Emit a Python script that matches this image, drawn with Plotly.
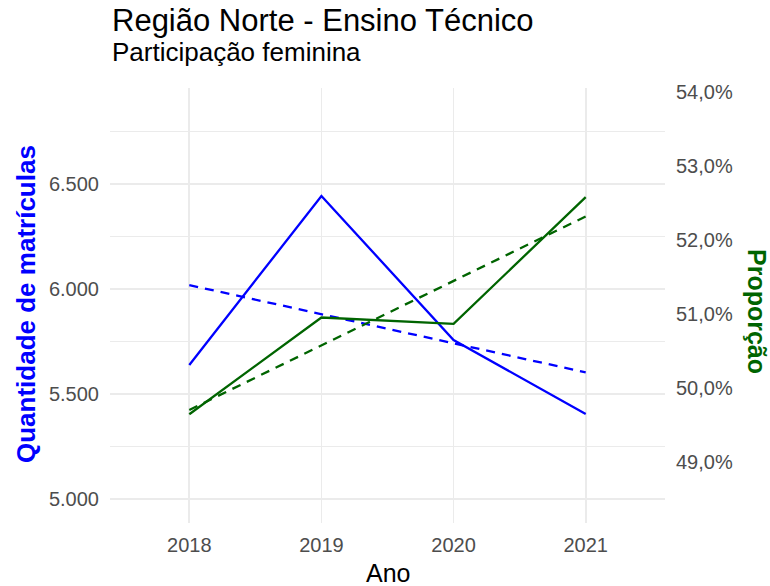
import numpy as np
import plotly.graph_objects as go

anos = [2018, 2019, 2020, 2021]
matriculas = [5638, 6443, 5757, 5405]
proporcao = [0.4965, 0.50955, 0.5087, 0.5258]

y_ticks = [5000, 5500, 6000, 6500]
y2_ticks = [0.49, 0.50, 0.51, 0.52, 0.53, 0.54]

# linear trends (as geom_smooth(method = "lm"))
x = np.array(anos, dtype=float)
tm = np.polyval(np.polyfit(x, matriculas, 1), x)
tp = np.polyval(np.polyfit(x, proporcao, 1), x)

BLUE = "#0000FF"
GREEN = "#006400"
GRID = "#EBEBEB"
TICK = "#4D4D4D"
FONT = "Liberation Sans, Arial, Helvetica, sans-serif"
LW = 2.3

fig = go.Figure()
fig.add_trace(go.Scatter(x=anos, y=matriculas, mode="lines", line=dict(color=BLUE, width=LW), yaxis="y"))
fig.add_trace(go.Scatter(x=anos, y=tm, mode="lines", line=dict(color=BLUE, width=LW, dash="9px,7px"), yaxis="y"))
fig.add_trace(go.Scatter(x=anos, y=proporcao, mode="lines", line=dict(color=GREEN, width=LW), yaxis="y2"))
fig.add_trace(go.Scatter(x=anos, y=tp, mode="lines", line=dict(color=GREEN, width=LW, dash="9px,7px"), yaxis="y2"))

W, H = 770, 586
L, R, T, B = 110, 105, 88, 63
pw, ph = W - L - R, H - T - B

def px_x(p):
    return (p - L) / pw

def px_y(p):
    return (H - B - p) / ph

fig.update_layout(
    width=W, height=H,
    margin=dict(l=L, r=R, t=T, b=B),
    paper_bgcolor="white", plot_bgcolor="white",
    showlegend=False,
    hovermode=False,
    separators=",.",
    font=dict(family=FONT, color=TICK, size=20),
    xaxis=dict(
        range=[2017.4, 2021.6], tickvals=anos, ticktext=[str(a) for a in anos],
        showgrid=True, gridcolor=GRID, gridwidth=1.8, zeroline=False,
        showline=False, ticks="", ticklabelstandoff=8,
        tickfont=dict(size=20, color=TICK, family=FONT),
    ),
    yaxis=dict(
        range=[4885.7, 6957.1], tickvals=y_ticks, tickformat=",d",
        showgrid=True, gridcolor=GRID, gridwidth=1.8, zeroline=False,
        showline=False, ticks="", ticklabelstandoff=10,
        minor=dict(dtick=250, tick0=4750, showgrid=True, gridcolor=GRID, gridwidth=1.2),
        tickfont=dict(size=20, color=TICK, family=FONT),
    ),
    yaxis2=dict(
        range=[0.48182, 0.54053], tickvals=y2_ticks, tickformat=".1%",
        overlaying="y", side="right", showgrid=False, zeroline=False,
        showline=False, ticks="", ticklabelstandoff=10,
        tickfont=dict(size=20, color=TICK, family=FONT),
    ),
    annotations=[
        dict(text="Região Norte - Ensino Técnico", xref="paper", yref="paper",
             x=px_x(110), y=px_y(20.5), xanchor="left", yanchor="middle", showarrow=False,
             font=dict(size=31, color="black", family=FONT)),
        dict(text="Participação feminina", xref="paper", yref="paper",
             x=px_x(110), y=px_y(52.2), xanchor="left", yanchor="middle", showarrow=False,
             font=dict(size=26, color="black", family=FONT)),
        dict(text="Ano", xref="paper", yref="paper",
             x=0.5, y=px_y(573), xanchor="center", yanchor="middle", showarrow=False,
             font=dict(size=25, color="black", family=FONT)),
        dict(text="<b>Quantidade de matrículas</b>", xref="paper", yref="paper",
             x=px_x(26), y=px_y(304), xanchor="center", yanchor="middle", showarrow=False,
             textangle=-90, font=dict(size=26, color=BLUE, family=FONT)),
        dict(text="<b>Proporção</b>", xref="paper", yref="paper",
             x=px_x(757), y=px_y(311), xanchor="center", yanchor="middle", showarrow=False,
             textangle=90, font=dict(size=25, color=GREEN, family=FONT)),
    ],
)

fig.write_html(
    "out.html",
    config={"displayModeBar": False, "staticPlot": True},
    post_script="document.body.style.margin='0';document.body.style.padding='0';document.body.style.overflow='hidden';",
)
